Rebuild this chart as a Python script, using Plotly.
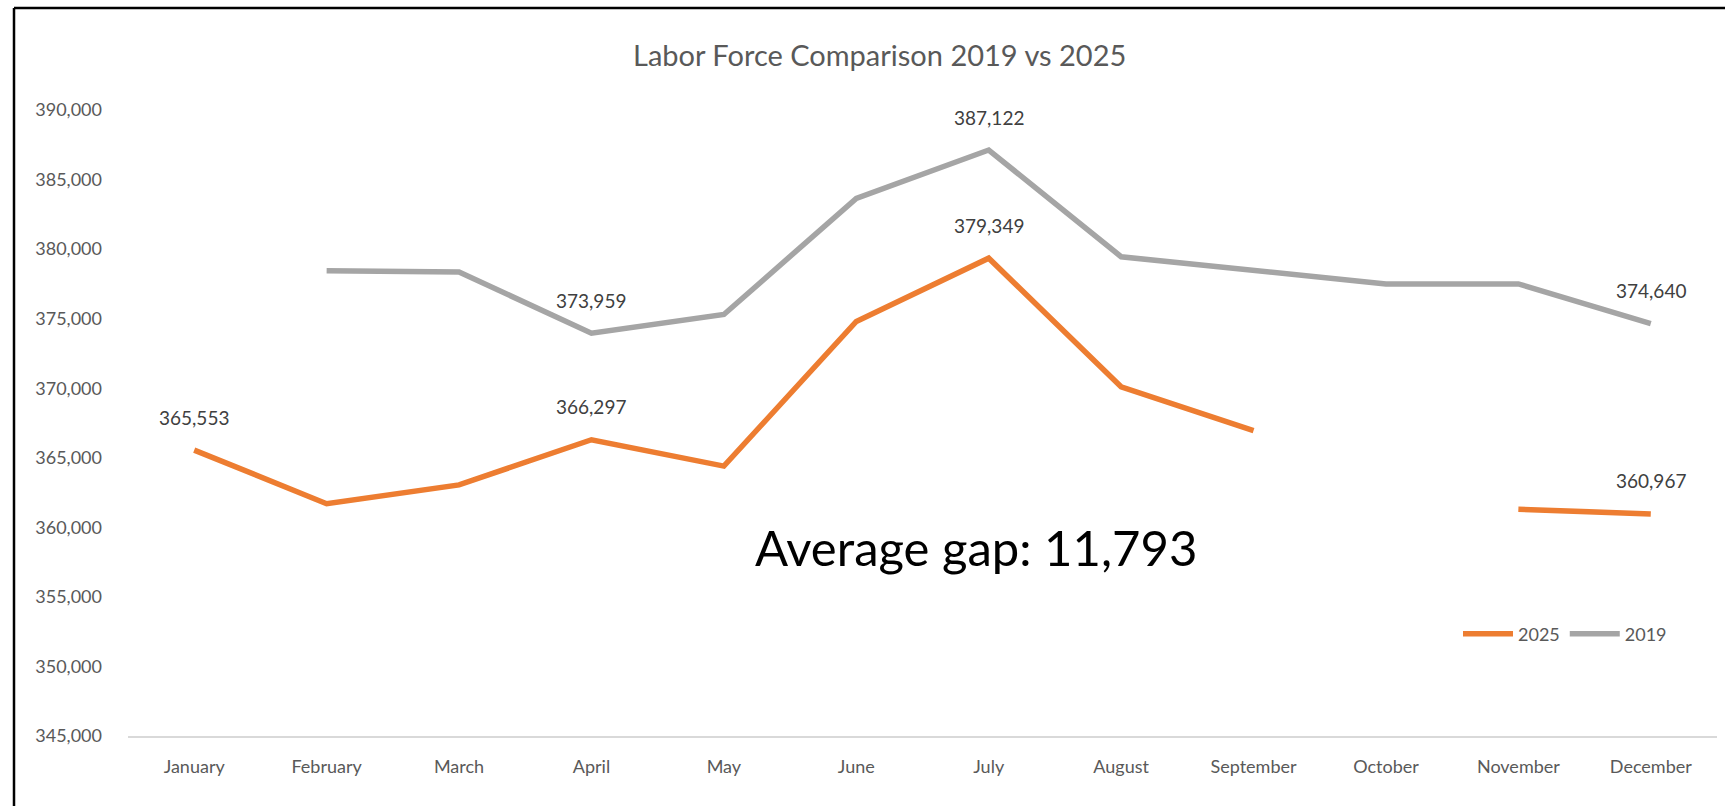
import plotly.graph_objects as go

months = ["January", "February", "March", "April", "May", "June", "July",
          "August", "September", "October", "November", "December"]
labor_2025 = [365553, 361700, 363050, 366297, 364400, 374800, 379349,
              370100, 366950, None, 361300, 360967]
labor_2019 = [None, 378450, 378350, 373959, 375300, 383650, 387122,
              379450, 378450, 377500, 377500, 374640]
labeled_2025 = ["January", "April", "July", "December"]
labeled_2019 = ["April", "July", "December"]
y_ticks = list(range(345000, 390001, 5000))
title_text = "Labor Force Comparison 2019 vs 2025"
gap_text = "Average gap: 11,793"

ORANGE = "#ED7D31"
GRAY = "#A5A5A5"
FONT = "Lato"

W, H = 1725, 806
L, R, T, B = 128, 8, 110, 70
pw, ph = W - L - R, H - T - B

def px_x(x):
    return (x - L) / pw

def px_y(y):
    return (H - B - y) / ph

fig = go.Figure()
fig.add_trace(go.Scatter(x=months, y=labor_2025, name="2025", mode="lines",
                         line=dict(color=ORANGE, width=5.5), connectgaps=False))
fig.add_trace(go.Scatter(x=months, y=labor_2019, name="2019", mode="lines",
                         line=dict(color=GRAY, width=5.5), connectgaps=False))

annotations = []
for series, labeled in ((labor_2025, labeled_2025), (labor_2019, labeled_2019)):
    for m in labeled:
        v = series[months.index(m)]
        annotations.append(dict(x=m, y=v, xref="x", yref="y", text=f"{v:,}",
                                showarrow=False, yshift=33,
                                xanchor="center", yanchor="middle",
                                font=dict(family=FONT, size=19, color="#404040")))

annotations.append(dict(x=px_x(879), y=px_y(55), xref="paper", yref="paper",
                        text=title_text, showarrow=False,
                        xanchor="center", yanchor="middle",
                        font=dict(family=FONT, size=29, color="#595959")))
annotations.append(dict(x=px_x(976), y=px_y(547), xref="paper", yref="paper",
                        text=gap_text, showarrow=False,
                        xanchor="center", yanchor="middle",
                        font=dict(family=FONT, size=49, color="#000000")))

shapes = [
    dict(type="line", xref="paper", yref="paper", x0=px_x(14), x1=px_x(14),
         y0=px_y(8), y1=px_y(H + 5), line=dict(color="#000000", width=2.5)),
    dict(type="line", xref="paper", yref="paper", x0=px_x(14), x1=px_x(W + 5),
         y0=px_y(8), y1=px_y(8), line=dict(color="#000000", width=2.5)),
]

fig.update_layout(
    width=W, height=H,
    margin=dict(l=L, r=R, t=T, b=B),
    paper_bgcolor="white", plot_bgcolor="white",
    font=dict(family=FONT, color="#595959", size=18),
    showlegend=True,
    legend=dict(orientation="h", x=px_x(1458), y=px_y(634), xanchor="left",
                yanchor="middle", font=dict(family=FONT, size=18, color="#595959"),
                bgcolor="rgba(0,0,0,0)", itemwidth=50),
    annotations=annotations,
    shapes=shapes,
)
fig.update_xaxes(range=[-0.5, 11.5], showgrid=False, showline=True,
                 linecolor="#D9D9D9", linewidth=1.5,
                 ticks="", ticklabelstandoff=14, zeroline=False,
                 tickfont=dict(family=FONT, size=18, color="#595959"))
fig.update_yaxes(range=[345000, 390000], tickvals=y_ticks,
                 ticktext=[f"{v:,}" for v in y_ticks], showgrid=False,
                 showline=False, zeroline=False, ticks="", ticklabelstandoff=25,
                 tickfont=dict(family=FONT, size=18, color="#595959"))

fig.write_html("out.html", config={"displayModeBar": False},
               post_script="document.body.style.margin='0';document.body.style.padding='0';")
